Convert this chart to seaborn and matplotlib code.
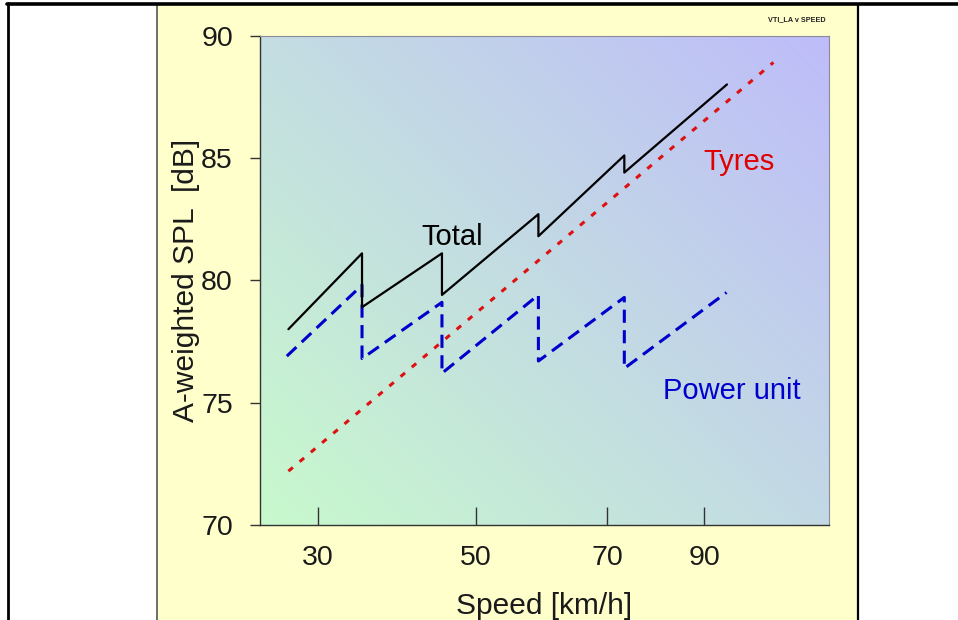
import numpy as np
import pandas as pd
import matplotlib
matplotlib.use("Agg")
import matplotlib.pyplot as plt
import seaborn as sns
from matplotlib.patches import Rectangle
from matplotlib.lines import Line2D

# ---------------- data ----------------
SPEED_TICKS = [30, 50, 70, 90]
SPEED_TICK_LABELS = ["30", "50", "70", "90"]
LEVEL_TICKS = [70, 75, 80, 85, 90]

total_speed = [26.3, 35.6, 35.6, 45.7, 45.7, 59.5, 59.5, 73.5, 73.5, 94.7]
total_level = [78.0, 81.1, 78.9, 81.1, 79.4, 82.7, 81.8, 85.1, 84.4, 88.0]

power_speed = [26.1, 35.6, 35.6, 45.7, 45.7, 59.5, 59.5, 73.5, 73.5, 94.6]
power_level = [76.9, 79.8, 76.8, 79.1, 76.2, 79.4, 76.7, 79.3, 76.4, 79.5]

tyres_speed = [26.3, 104.3]
tyres_level = [72.2, 88.9]

# ---------------- style ----------------
sns.set_theme(style="ticks")
plt.rcParams['font.family'] = ['Liberation Sans', 'DejaVu Sans']

W, H = 958, 620
fig = plt.figure(figsize=(W / 100, H / 100), dpi=100)
fig.patch.set_facecolor('white')

# yellow slide panel and frame lines
fig.add_artist(Rectangle((157 / W, 0), (858 - 157) / W, 1 - 5 / H,
                         transform=fig.transFigure, facecolor='#FFFFCC',
                         edgecolor='none', zorder=0))
fig.add_artist(Line2D([157 / W] * 2, [0, 1 - 4 / H], color='#555555', lw=1.2,
                      transform=fig.transFigure))
fig.add_artist(Line2D([858 / W] * 2, [0, 1 - 4 / H], color='black', lw=1.6,
                      transform=fig.transFigure))
fig.add_artist(Line2D([8 / W] * 2, [0, 1 - 3 / H], color='black', lw=2.0,
                      transform=fig.transFigure))
fig.add_artist(Line2D([7 / W, 1], [1 - 3.5 / H] * 2, color='black', lw=2.6,
                      transform=fig.transFigure))

ax = fig.add_axes([260 / W, 1 - 525 / H, 569 / W, 489.5 / H])

# ---------------- non-uniform speed scale of the original slide ----------------
_k_speed = np.array([30.0, 50.0, 70.0, 90.0])
_k_u = np.array([0.1014, 0.3796, 0.6105, 0.7807])
_sl = (_k_u[1] - _k_u[0]) / (_k_speed[1] - _k_speed[0])
_sr = (_k_u[-1] - _k_u[-2]) / (_k_speed[-1] - _k_speed[-2])
_ks = np.concatenate([[-500.0], _k_speed, [1000.0]])
_ku = np.concatenate([[_k_u[0] - (30 + 500) * _sl], _k_u,
                      [_k_u[-1] + (1000 - 90) * _sr]])


def fwd(x):
    return np.interp(np.asarray(x, dtype=float), _ks, _ku)


def inv(u):
    return np.interp(np.asarray(u, dtype=float), _ku, _ks)


ax.set_xscale('function', functions=(fwd, inv))
ax.set_xlim(inv(0.0), inv(1.0))
ax.set_ylim(70, 90)

# gradient background
n = 300
uu, vv = np.meshgrid(np.linspace(0, 1, n), np.linspace(0, 1, n))
t = (uu * 569 + vv * 489.5) / (569 + 489.5)
c0 = np.array([200, 250, 204]) / 255.0
c1 = np.array([190, 188, 250]) / 255.0
img = c0[None, None, :] * (1 - t[..., None]) + c1[None, None, :] * t[..., None]
ax.imshow(img, origin='lower', extent=[0, 1, 0, 1], transform=ax.transAxes,
          aspect='auto', zorder=0, interpolation='bilinear')

# ---------------- series ----------------
sns.lineplot(x=tyres_speed, y=tyres_level, ax=ax, sort=False, estimator=None,
             color='#DD1111', lw=2.2, linestyle=(0, (1.9, 2.9)), zorder=3)
sns.lineplot(x=power_speed, y=power_level, ax=ax, sort=False, estimator=None,
             color='#0000CC', lw=2.2, linestyle=(0, (4.3, 2.4)), zorder=4)
sns.lineplot(x=total_speed, y=total_level, ax=ax, sort=False, estimator=None,
             color='black', lw=1.6, zorder=5)

# labels on the chart
ax.text(0.283, 0.572, "Total", transform=ax.transAxes, fontsize=21,
        color='black', ha='left', va='baseline', zorder=6)
ax.text(0.7786, 0.725, "Tyres", transform=ax.transAxes, fontsize=21,
        color='#E00000', ha='left', va='baseline', zorder=6)
ax.text(0.7088, 0.2568, "Power unit", transform=ax.transAxes, fontsize=21,
        color='#0000CC', ha='left', va='baseline', zorder=6)

# ---------------- axes ----------------
ax.set_xticks(SPEED_TICKS)
ax.set_xticklabels(SPEED_TICK_LABELS)
ax.xaxis.set_minor_locator(matplotlib.ticker.NullLocator())
ax.set_yticks(LEVEL_TICKS)
ax.set_yticklabels([str(v) for v in LEVEL_TICKS])

ax.tick_params(axis='x', direction='in', length=13, width=1.0, color='#333333',
               labelsize=20.5, pad=14.5, labelcolor='#1a1a1a')
ax.tick_params(axis='y', direction='out', length=7.5, width=1.0, color='#333333',
               labelsize=20.5, pad=12, labelcolor='#1a1a1a')

ax.set_xlabel("Speed [km/h]", fontsize=21.5, color='#1a1a1a', labelpad=15)
ax.set_ylabel("A-weighted SPL  [dB]", fontsize=21.5, color='#1a1a1a', labelpad=1)

for side in ['left', 'bottom']:
    ax.spines[side].set_color('#333333')
    ax.spines[side].set_linewidth(1.0)
for side in ['top', 'right']:
    ax.spines[side].set_visible(True)
    ax.spines[side].set_color('#8a8a9a')
    ax.spines[side].set_linewidth(0.8)

fig.text(797 / W, 1 - 20 / H, "VTI_LA v SPEED", fontsize=5.2, fontweight='bold',
         ha='center', va='center', color='#222222')

fig.savefig("out.png", dpi=100)
